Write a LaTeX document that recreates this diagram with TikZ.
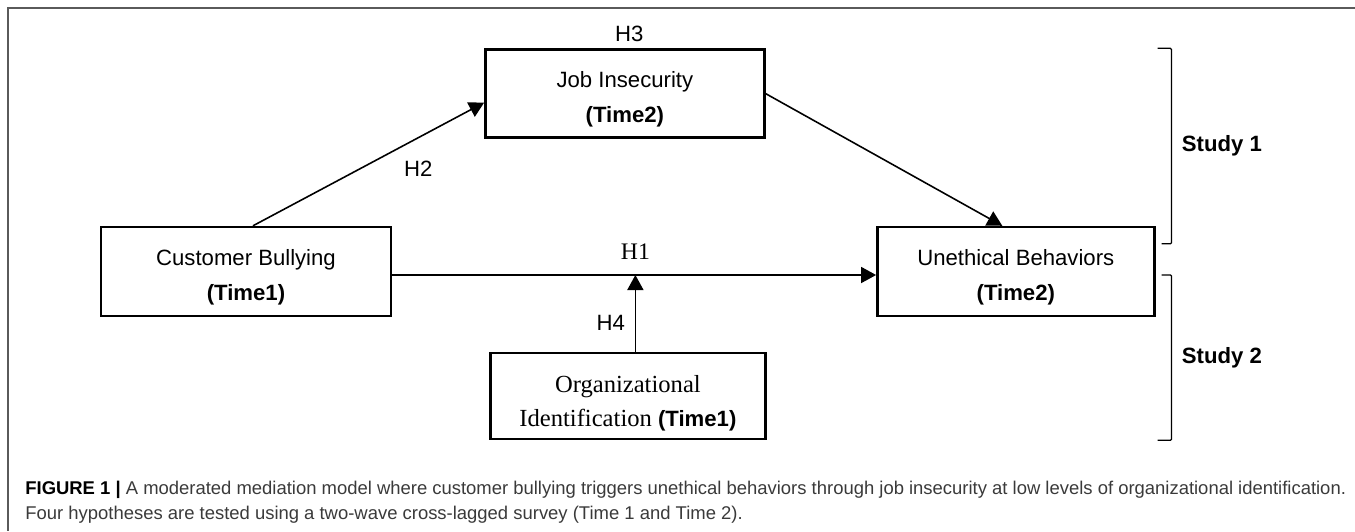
\documentclass[tikz,border=0pt]{standalone}
\usepackage{fontspec}
\setmainfont{Liberation Serif}
\setsansfont{Liberation Sans}
\usetikzlibrary{
  arrows.meta,
  calc,
  positioning
}
\definecolor{frameGray}{HTML}{5A5A5A}
\definecolor{captionText}{HTML}{3A3A3A}
\newcommand{\timept}[1]{{\sffamily\bfseries\fontsize{12.6}{19.4}\selectfont #1}}
\newcommand{\topstrut}[1][5.6mm]{\rule{0pt}{#1}}
\tikzset{
  var/.style={
    draw=black,
    line width=1.4pt,
    minimum width=#1,
    minimum height=1.76cm,
    align=center,
    font=\sffamily\fontsize{12.6}{19.8}\selectfont,
    inner sep=2pt
  },
  var/.default=5.6cm,
  arr/.style={-{Triangle[length=3mm, width=3.2mm]}, line width=0.9pt},
  hyp/.style={font=\sffamily\fontsize{12.6}{15}\selectfont, inner sep=1pt},
  hypserif/.style={font=\rmfamily\fontsize{13.5}{16}\selectfont, inner sep=1pt},
  brace/.style={line width=0.7pt, rounded corners=0.6pt},
  study/.style={font=\sffamily\bfseries\fontsize{12.6}{15}\selectfont, inner sep=0pt},
  frame/.style={draw=frameGray, line width=0.7pt},
  caption/.style={
    font=\sffamily\fontsize{10.5}{14.2}\selectfont,
    text=captionText,
    align=left,
    inner sep=0pt
  }
}

\begin{document}
\begin{tikzpicture}[x=0.02cm, y=-0.02cm]
\useasboundingbox (0,0) rectangle (1355,531);

% --- Frame ---
\draw[frame] (1355,8) -- (8,8) -- (8,531);

% --- Variables ---
\node[var=5.8cm, minimum height=1.78cm] (cust) at (246,271.5) {
  \topstrut Customer Bullying\\\timept{(Time1)}
};

\node[var=5.54cm, minimum height=1.78cm, right=96.8mm of cust] (uneth) {
  \topstrut Unethical Behaviors\\\timept{(Time2)}
};

\node[var=5.58cm, above right=17.4mm and 18.4mm of cust] (job) {
  \topstrut Job Insecurity\\\timept{(Time2)}
};

\node[var=5.5cm, minimum height=1.72cm, font=\rmfamily\fontsize{14}{19.4}\selectfont,
      below=42.6mm of job, xshift=0.6mm] (org) {
  \topstrut[6.2mm]Organizational\\Identification \timept{(Time1)}
};

% --- Paths ---
\draw[arr] ([yshift=-0.7mm]cust.east) -- ([yshift=-0.7mm]uneth.west);
\coordinate (mod) at ([xshift=1.5mm,yshift=-0.7mm]org.north |- cust.east);
\node[hypserif, above=2.6mm of mod] (h1) {H1};

\draw[arr] ([xshift=1.4mm]cust.north) -- ([yshift=-1.8mm]job.west)
  node[hyp, pos=0.63, below right=2mm and 0.6mm] (h2) {H2};

\node[hyp, above=0.9mm of job, xshift=0.9mm] (h3) {H3};
\draw[arr] (job.east) -- ([xshift=-2.7mm]uneth.north);

\draw[arr] ([xshift=1.5mm]org.north) -- (mod)
  node[hyp, pos=0.38, left=1.6mm] (h4) {H4};

% --- Study brackets ---
\coordinate (s1top) at ([xshift=3.2mm]uneth.east |- job.north);
\coordinate (s1bot) at ([xshift=3.2mm,yshift=-3.6mm]uneth.north east);
\coordinate (s2top) at ([xshift=3.2mm,yshift=-0.7mm]uneth.east);
\coordinate (s2bot) at ([xshift=3.2mm]uneth.east |- org.south);

\draw[brace] ([xshift=-2.8mm]s1top) -- (s1top) -- (s1bot) -- ([xshift=-2mm]s1bot);
\draw[brace] ([xshift=-2mm]s2top) -- (s2top) -- (s2bot) -- ([xshift=-2.8mm]s2bot);

\path (s1top) -- (s1bot) node[study, midway, right=2mm] (study1) {Study 1};
\path (s2top) -- (s2bot) node[study, midway, right=2mm] (study2) {Study 2};

% --- Caption ---
\node[caption, anchor=north west] (cap) at (25,481) {
  \textcolor{black}{\bfseries FIGURE 1 |} A moderated mediation model where customer bullying triggers unethical behaviors through job insecurity at low levels of organizational identification.\\
  Four hypotheses are tested using a two-wave cross-lagged survey (Time 1 and Time 2).
};

\end{tikzpicture}
\end{document}
